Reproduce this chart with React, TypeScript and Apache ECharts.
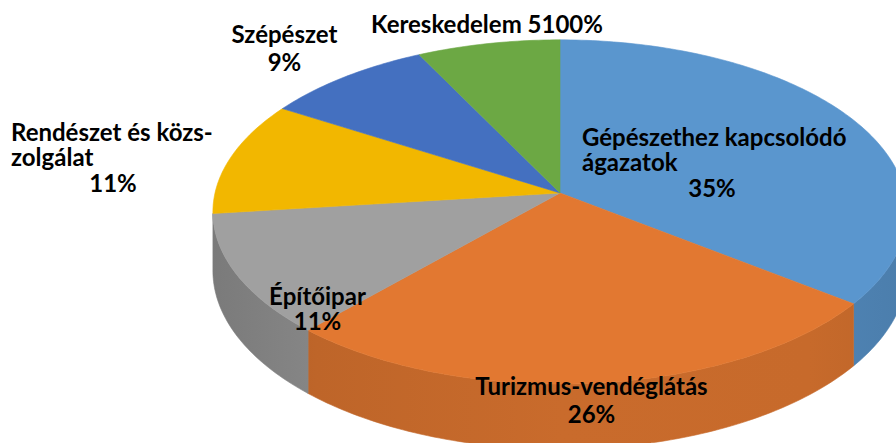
import React, { useEffect, useRef } from "react";
import * as echarts from "echarts";

// ---- data ----
const categories = [
  "Gépészethez kapcsolódó ágazatok",
  "Turizmus-vendéglátás",
  "Építőipar",
  "Rendészet és közs-zolgálat",
  "Szépészet",
  "Kereskedelem",
];
const values = [35.4, 26.3, 11.4, 10.7, 8.8, 7.4];
const percentLabels = ["35%", "26%", "11%", "11%", "9%", "5100%"];
const nameLines = [
  ["Gépészethez kapcsolódó", "ágazatok"],
  ["Turizmus-vendéglátás"],
  ["Építőipar"],
  ["Rendészet és közs-", "zolgálat"],
  ["Szépészet"],
  ["Kereskedelem"],
];
const percentInline = [false, false, false, false, false, true];
const colors = ["#5A96CE", "#E27831", "#A0A0A0", "#F2B700", "#4470C0", "#6CA844"];

// ---- layout (not data) ----
const CX = 560;
const CY = 193;
const RA = 345;
const RB = 170;
const PERSP = 0.11;
const DEPTH = 58;
const FONT = "bold 24px Lato";
// per slice: text blocks [x, yCenter, align, lineHeight, number of lines]
const labelLayout: [number, number, string, number, number][][] = [
  [[582, 148.5, "left", 25, 2], [712, 187, "center", 25, 1]],
  [[591.5, 399, "center", 28, 2]],
  [[317.5, 307.5, "center", 25, 2]],
  [[11, 143.5, "left", 25, 2], [113, 182, "center", 25, 1]],
  [[284.5, 47, "center", 28, 2]],
  [[487, 23, "center", 25, 1]],
];

const total = values.reduce((a, b) => a + b, 0);
const starts: number[] = [];
{
  let acc = 0;
  for (const v of values) {
    starts.push((acc / total) * Math.PI * 2);
    acc += v;
  }
}

function proj(th: number, h: number): number[] {
  const X = Math.sin(th);
  const Z = Math.cos(th);
  const d = 1 + PERSP * Z;
  return [CX + (RA * X) / d, CY - (RB * Z) / d + h / d];
}

function shade(hex: string, f: number): string {
  const n = parseInt(hex.slice(1), 16);
  const r = Math.round(((n >> 16) & 255) * f);
  const g = Math.round(((n >> 8) & 255) * f);
  const b = Math.round((n & 255) * f);
  return `rgb(${r},${g},${b})`;
}

const TA = Math.acos(-PERSP);
const TB = Math.PI * 2 - TA;

export default function App() {
  const ref = useRef<HTMLDivElement>(null);
  useEffect(() => {
    const chart = echarts.init(ref.current!, null, { renderer: "svg" });
    const data = values.map((v, i) => ({ name: categories[i], value: v }));

    const option: any = {
      animation: false,
      backgroundColor: "#ffffff",
      series: [
        {
          type: "custom",
          coordinateSystem: "none",
          silent: true,
          z: 1,
          data,
          renderItem: (params: any, api: any) => {
            const i = params.dataIndex;
            const v = api.value(0);
            const a0 = starts[i];
            const a1 = a0 + (v / total) * Math.PI * 2;
            const lo = Math.max(a0, TA);
            const hi = Math.min(a1, TB);
            if (hi <= lo + 0.02) return { type: "group", children: [] };
            const pts: number[][] = [];
            const n = Math.max(2, Math.ceil(((hi - lo) * 180) / Math.PI));
            for (let k = 0; k <= n; k++) pts.push(proj(lo + ((hi - lo) * k) / n, 0));
            for (let k = n; k >= 0; k--) pts.push(proj(lo + ((hi - lo) * k) / n, DEPTH));
            const c = colors[i];
            const grad = new echarts.graphic.LinearGradient(
              CX - RA - 5,
              0,
              CX + RA + 10,
              0,
              [
                { offset: 0, color: shade(c, 0.76) },
                { offset: 0.15, color: shade(c, 0.84) },
                { offset: 0.5, color: shade(c, 0.89) },
                { offset: 0.85, color: shade(c, 0.88) },
                { offset: 1, color: shade(c, 0.83) },
              ],
              true
            );
            return {
              type: "polygon",
              shape: { points: pts },
              style: { fill: grad, stroke: grad, lineWidth: 0.6 },
            };
          },
        },
        {
          type: "custom",
          coordinateSystem: "none",
          silent: true,
          z: 2,
          data,
          renderItem: (params: any, api: any) => {
            const i = params.dataIndex;
            const v = api.value(0);
            const a0 = starts[i];
            const a1 = a0 + (v / total) * Math.PI * 2;
            const pts: number[][] = [[CX, CY]];
            const n = Math.max(2, Math.ceil(((a1 - a0) * 180) / Math.PI));
            for (let k = 0; k <= n; k++) pts.push(proj(a0 + ((a1 - a0) * k) / n, 0));
            return {
              type: "polygon",
              shape: { points: pts },
              style: { fill: colors[i], stroke: colors[i], lineWidth: 0.6 },
            };
          },
        },
        {
          type: "custom",
          coordinateSystem: "none",
          silent: true,
          z: 3,
          data,
          renderItem: (params: any) => {
            const i = params.dataIndex;
            const lines = nameLines[i].slice();
            if (percentInline[i]) lines[lines.length - 1] += " " + percentLabels[i];
            else lines.push(percentLabels[i]);
            let idx = 0;
            const children = labelLayout[i].map((b) => {
              const t = lines.slice(idx, idx + b[4]).join("\n");
              idx += b[4];
              return {
                type: "text",
                style: {
                  text: t,
                  x: b[0],
                  y: b[1],
                  align: b[2],
                  verticalAlign: "middle",
                  lineHeight: b[3],
                  font: FONT,
                  fill: "#000000",
                },
              };
            });
            return { type: "group", children };
          },
        },
      ],
    };
    chart.setOption(option);
    return () => chart.dispose();
  }, []);
  return (
    <div
      ref={ref}
      style={{ position: "fixed", left: 0, top: 0, width: 896, height: 443, background: "#fff" }}
    />
  );
}
